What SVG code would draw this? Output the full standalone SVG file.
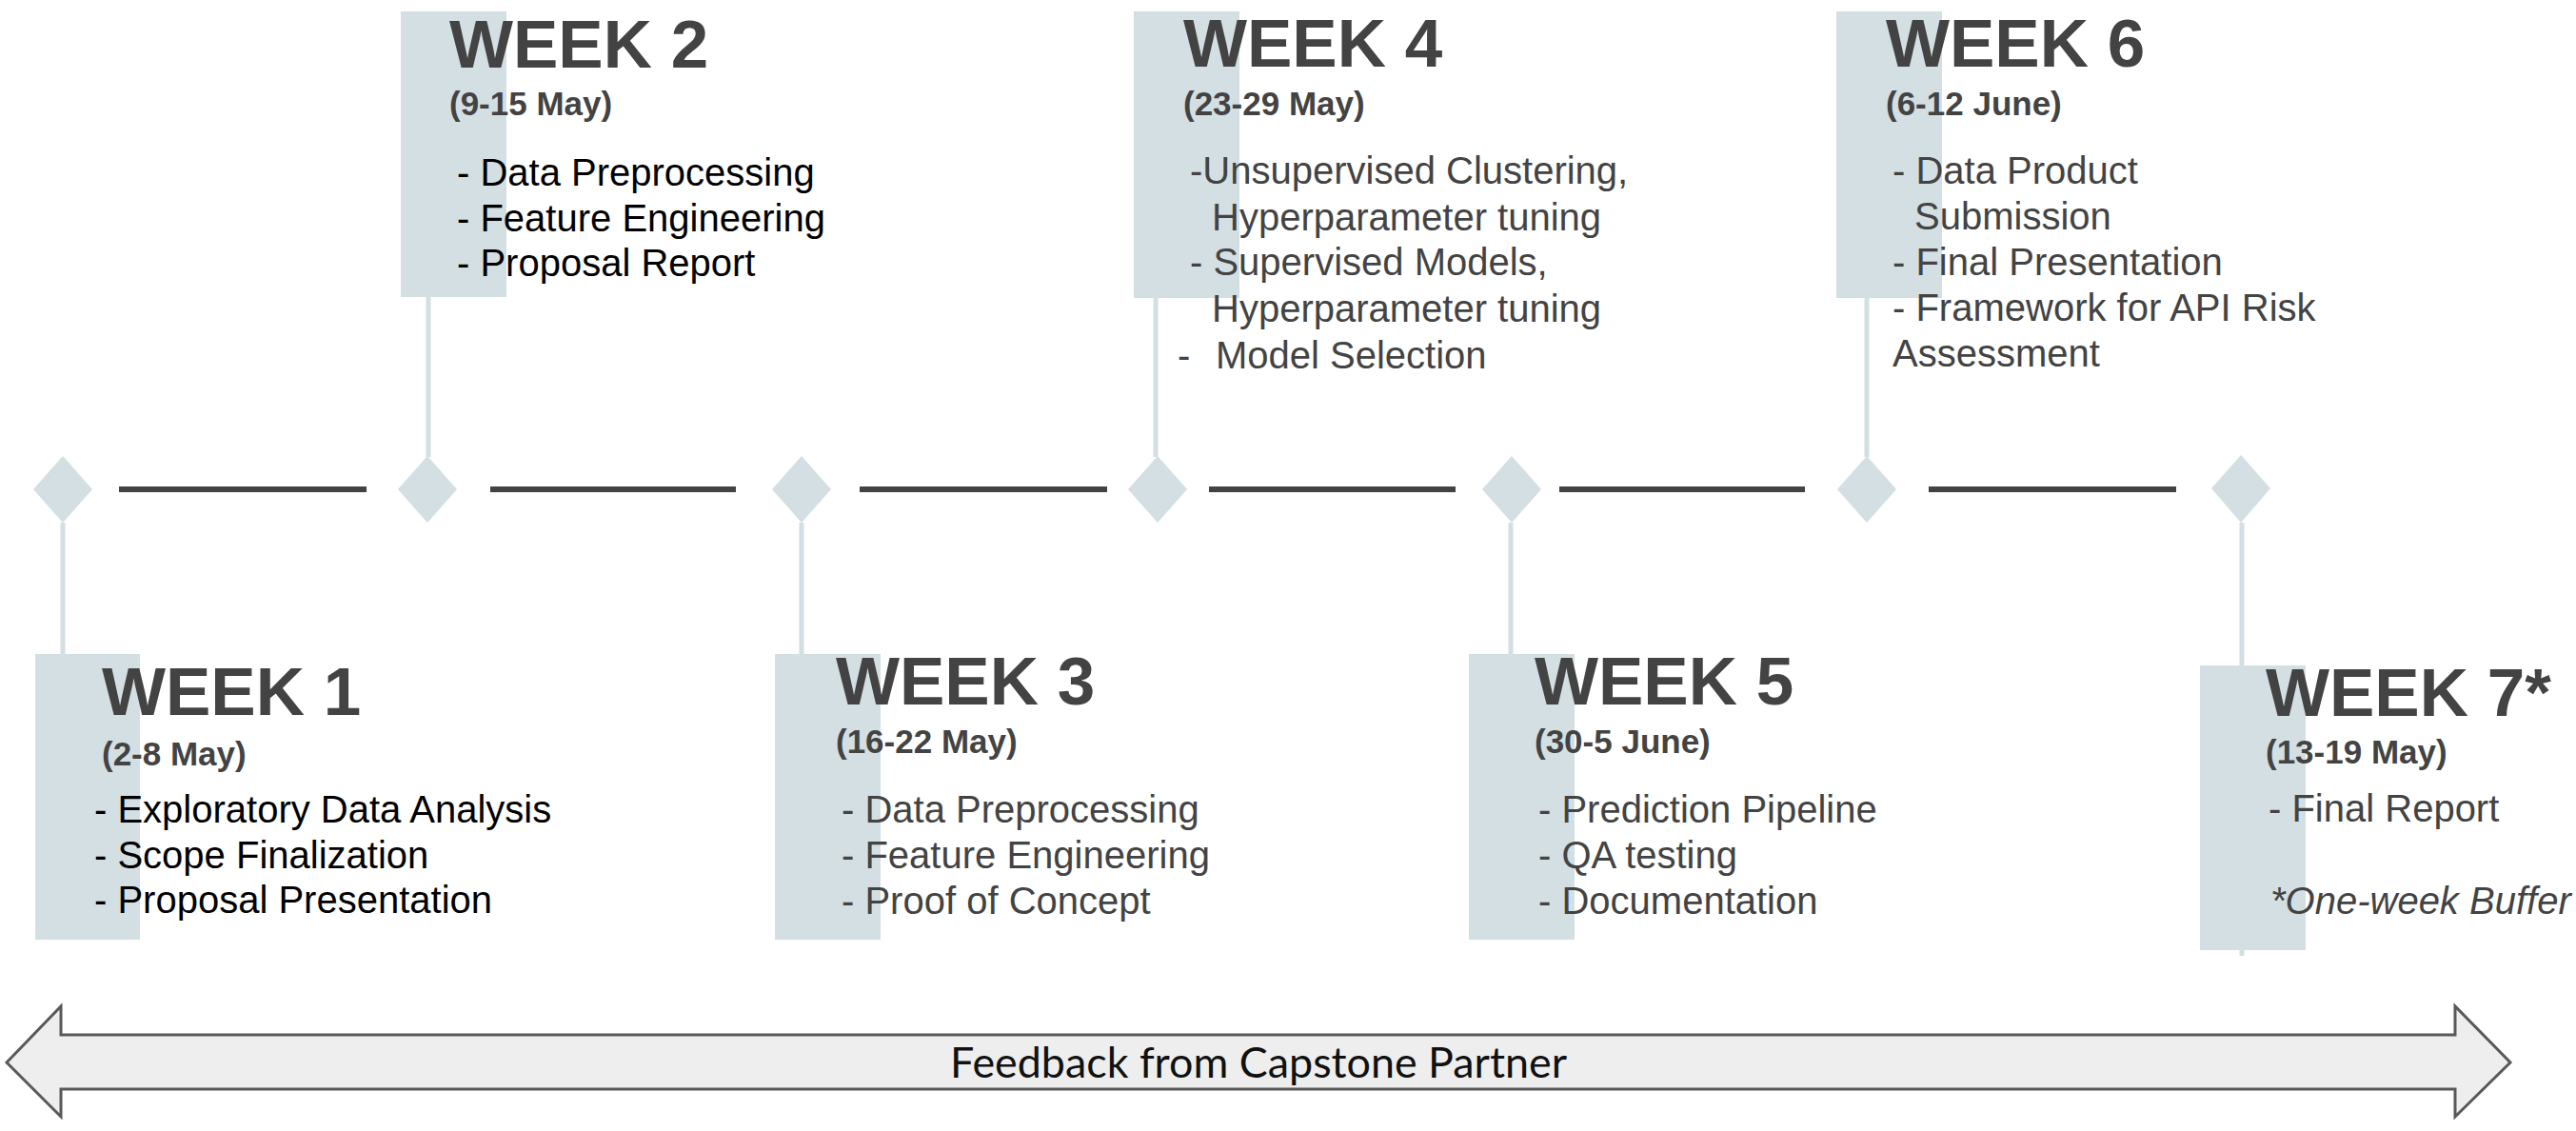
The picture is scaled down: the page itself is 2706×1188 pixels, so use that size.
<svg xmlns="http://www.w3.org/2000/svg" width="2706" height="1188" viewBox="0 0 2706 1188">
<style>
  .box { fill: #d3dfe3; }
  .dia { fill: #d3dfe3; }
  .stem { stroke: #d3dfe3; stroke-width: 5; fill: none; }
  .seg { stroke: #434343; stroke-width: 6; fill: none; }
  .title { font-family: "Liberation Sans", Arial, sans-serif; font-weight: bold; font-size: 71px; fill: #434343; }
  .date { font-family: "Liberation Sans", Arial, sans-serif; font-weight: bold; font-size: 35px; fill: #434343; }
  .item { font-family: "Liberation Sans", Arial, sans-serif; font-size: 40px; fill: #434343; }
  .dark { fill: #000000; }
  .ital { font-style: italic; }
  .arrow { fill: #eeeeee; stroke: #595959; stroke-width: 3; stroke-linejoin: miter; }
  .fb { font-family: Lato, "Open Sans", sans-serif; font-size: 44px; fill: #111111; }
</style>
<rect width="2706" height="1188" fill="#ffffff"/>

<g id="connectors">
  <line class="seg" x1="125" y1="514" x2="385" y2="514"/>
  <line class="seg" x1="515" y1="514" x2="773" y2="514"/>
  <line class="seg" x1="903" y1="514" x2="1163" y2="514"/>
  <line class="seg" x1="1270" y1="514" x2="1529" y2="514"/>
  <line class="seg" x1="1638" y1="514" x2="1896" y2="514"/>
  <line class="seg" x1="2026" y1="514" x2="2286" y2="514"/>
  <line class="stem" x1="66" y1="549" x2="66" y2="688"/>
  <line class="stem" x1="450" y1="312" x2="450" y2="480"/>
  <line class="stem" x1="842" y1="549" x2="842" y2="688"/>
  <line class="stem" x1="1214" y1="312" x2="1214" y2="480"/>
  <line class="stem" x1="1587" y1="549" x2="1587" y2="688"/>
  <line class="stem" x1="1961" y1="312" x2="1961" y2="480"/>
  <line class="stem" x1="2355" y1="549" x2="2355" y2="1004"/>
</g>

<g id="week1">
  <polygon class="dia" points="66,479 97,514 66,549 35,514"/>
  <rect class="box" x="37" y="687" width="110" height="300"/>
  <text class="title" x="107" y="751">WEEK 1</text>
  <text class="date" x="107" y="804">(2-8 May)</text>
  <text class="item dark" x="99" y="864">- Exploratory Data Analysis</text>
  <text class="item dark" x="99" y="912">- Scope Finalization</text>
  <text class="item dark" x="99" y="959">- Proposal Presentation</text>
</g>

<g id="week2">
  <polygon class="dia" points="449,479 480,514 449,549 418,514"/>
  <rect class="box" x="421" y="12" width="111" height="300"/>
  <text class="title" x="472" y="71">WEEK 2</text>
  <text class="date" x="472" y="121">(9-15 May)</text>
  <text class="item dark" x="480" y="195">- Data Preprocessing</text>
  <text class="item dark" x="480" y="243">- Feature Engineering</text>
  <text class="item dark" x="480" y="290">- Proposal Report</text>
</g>

<g id="week3">
  <polygon class="dia" points="842,479 873,514 842,549 811,514"/>
  <rect class="box" x="814" y="687" width="111" height="300"/>
  <text class="title" x="878" y="740">WEEK 3</text>
  <text class="date" x="878" y="791">(16-22 May)</text>
  <text class="item" x="884" y="864">- Data Preprocessing</text>
  <text class="item" x="884" y="912">- Feature Engineering</text>
  <text class="item" x="884" y="960">- Proof of Concept</text>
</g>

<g id="week4">
  <polygon class="dia" points="1216,479 1247,514 1216,549 1185,514"/>
  <rect class="box" x="1191" y="12" width="111" height="301"/>
  <text class="title" x="1243" y="70">WEEK 4</text>
  <text class="date" x="1243" y="121">(23-29 May)</text>
  <text class="item" x="1250" y="193">-Unsupervised Clustering,</text>
  <text class="item" x="1273" y="242">Hyperparameter tuning</text>
  <text class="item" x="1250" y="289">- Supervised Models,</text>
  <text class="item" x="1273" y="338">Hyperparameter tuning</text>
  <text class="item" y="387"><tspan x="1237">-</tspan><tspan x="1277">Model Selection</tspan></text>
</g>

<g id="week5">
  <polygon class="dia" points="1588,479 1619,514 1588,549 1557,514"/>
  <rect class="box" x="1543" y="687" width="111" height="300"/>
  <text class="title" x="1612" y="740">WEEK 5</text>
  <text class="date" x="1612" y="791">(30-5 June)</text>
  <text class="item" x="1616" y="864">- Prediction Pipeline</text>
  <text class="item" x="1616" y="912">- QA testing</text>
  <text class="item" x="1616" y="960">- Documentation</text>
</g>

<g id="week6">
  <polygon class="dia" points="1961,479 1992,514 1961,549 1930,514"/>
  <rect class="box" x="1929" y="12" width="111" height="301"/>
  <text class="title" x="1981" y="70">WEEK 6</text>
  <text class="date" x="1981" y="121">(6-12 June)</text>
  <text class="item" x="1988" y="193">- Data Product</text>
  <text class="item" x="2011" y="241">Submission</text>
  <text class="item" x="1988" y="289">- Final Presentation</text>
  <text class="item" x="1988" y="337">- Framework for API Risk</text>
  <text class="item" x="1988" y="385">Assessment</text>
</g>

<g id="week7">
  <polygon class="dia" points="2354,478 2385,513 2354,549 2323,513"/>
  <rect class="box" x="2311" y="699" width="111" height="299"/>
  <text class="title" x="2380" y="752">WEEK 7*</text>
  <text class="date" x="2380" y="802">(13-19 May)</text>
  <text class="item" x="2383" y="863">- Final Report</text>
  <text class="item ital" x="2385" y="960">*One-week Buffer</text>
</g>

<g id="feedback">
  <polygon class="arrow" points="7,1116 64,1057 64,1087 2579,1087 2579,1057 2637,1116 2579,1173 2579,1144 64,1144 64,1173"/>
  <text class="fb" x="1322" y="1132" text-anchor="middle" textLength="648" lengthAdjust="spacingAndGlyphs">Feedback from Capstone Partner</text>
</g>
</svg>
